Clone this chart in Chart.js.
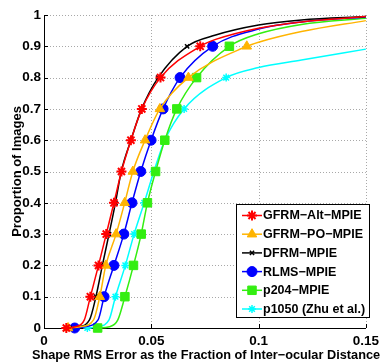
<!DOCTYPE html>
<html><head><meta charset="utf-8">
<script src="https://cdn.jsdelivr.net/npm/chart.js@4/dist/chart.umd.min.js"></script>
<style>html,body{margin:0;padding:0;background:#fff;}</style>
</head><body><canvas id="c" width="384" height="362"></canvas>
<script>
// ---- data ----
const seriesNames = ["GFRM−Alt−MPIE", "GFRM−PO−MPIE", "DFRM−MPIE", "RLMS−MPIE", "p204−MPIE", "p1050 (Zhu et al.)"];
const xTitle = "Shape RMS Error as the Fraction of Inter−ocular Distance";
const yTitle = "Proportion of Images";
// proportion levels at which markers sit
const markerLevels = [0, 0.1, 0.2, 0.3, 0.4, 0.5, 0.6, 0.7, 0.8, 0.9];
// error value (x) where each curve reaches each marker level
const gfrmAltX = [0.0104, 0.0216, 0.0254, 0.0290, 0.0326, 0.0361, 0.0405, 0.0456, 0.0543, 0.0728];
const gfrmPoX  = [0.0112, 0.0260, 0.0288, 0.0336, 0.0376, 0.0414, 0.0471, 0.0540, 0.0673, 0.0945];
const dfrmX    = [0.0119, 0.0242, 0.0272, 0.0303, 0.0333, 0.0360, 0.0405, 0.0455, 0.0532, 0.0667];
const rlmsX    = [0.0143, 0.0280, 0.0326, 0.0372, 0.0410, 0.0451, 0.0499, 0.0555, 0.0634, 0.0786];
const p204X    = [0.0250, 0.0377, 0.0417, 0.0453, 0.0482, 0.0520, 0.0563, 0.0619, 0.0711, 0.0864];
const p1050X   = [0.0202, 0.0333, 0.0379, 0.0420, 0.0467, 0.0512, 0.0563, 0.0653, 0.0849];
// extra curve samples without markers (foot and tail)
const gfrmAltExtraX = [0.0145, 0.0188, 0.080, 0.100, 0.120, 0.150];
const gfrmAltExtraY = [0.004, 0.026, 0.922, 0.958, 0.978, 0.995];
const gfrmPoExtraX  = [0.0170, 0.0231, 0.100, 0.120, 0.150];
const gfrmPoExtraY  = [0.004, 0.026, 0.913, 0.947, 0.982];
const dfrmExtraX    = [0.0160, 0.0212, 0.080, 0.100, 0.120, 0.150];
const dfrmExtraY    = [0.004, 0.026, 0.936, 0.968, 0.984, 0.995];
const rlmsExtraX    = [0.0190, 0.0252, 0.100, 0.120, 0.150];
const rlmsExtraY    = [0.004, 0.026, 0.955, 0.978, 0.994];
const p204ExtraX    = [0.0305, 0.0344, 0.100, 0.120, 0.150];
const p204ExtraY    = [0.004, 0.026, 0.940, 0.970, 0.990];
const p1050ExtraX   = [0.0250, 0.0303, 0.100, 0.120, 0.150];
const p1050ExtraY   = [0.004, 0.026, 0.832, 0.856, 0.891];

const xTickValues = [0, 0.05, 0.1, 0.15];
const xTickLabels = ["0", "0.05", "0.1", "0.15"];
const yTickValues = [0, 0.1, 0.2, 0.3, 0.4, 0.5, 0.6, 0.7, 0.8, 0.9, 1];
const yTickLabels = ["0", "0.1", "0.2", "0.3", "0.4", "0.5", "0.6", "0.7", "0.8", "0.9", "1"];

function buildPoints(mx, ex, ey) {
  const pts = mx.map((x, i) => ({x: x, y: markerLevels[i], m: true}));
  ex.forEach((x, i) => pts.push({x: x, y: ey[i], m: false}));
  pts.sort((a, b) => a.x - b.x);
  return pts;
}

const styles = [
  {color: '#ff0000', style: 'star', r: 5, bw: 2, fill: '#ff0000'},
  {color: '#ffb400', style: 'triangle', r: 5.5, bw: 1, fill: '#ffb400'},
  {color: '#000000', style: 'crossRot', r: 3, bw: 1.5, fill: '#000000'},
  {color: '#0000ff', style: 'circle', r: 5, bw: 1, fill: '#0000ff'},
  {color: '#33ee11', style: 'rect', r: 6, bw: 1, fill: '#33ee11'},
  {color: '#00ffff', style: 'star', r: 4, bw: 1.5, fill: '#00ffff'}
];
const pointSets = [
  buildPoints(gfrmAltX, gfrmAltExtraX, gfrmAltExtraY),
  buildPoints(gfrmPoX, gfrmPoExtraX, gfrmPoExtraY),
  buildPoints(dfrmX, dfrmExtraX, dfrmExtraY),
  buildPoints(rlmsX, rlmsExtraX, rlmsExtraY),
  buildPoints(p204X, p204ExtraX, p204ExtraY),
  buildPoints(p1050X, p1050ExtraX, p1050ExtraY)
];

const datasets = pointSets.map((pts, i) => {
  const s = styles[i];
  return {
    label: seriesNames[i],
    data: pts,
    showLine: true,
    borderColor: s.color,
    borderWidth: 1.5,
    backgroundColor: s.fill,
    pointBackgroundColor: s.fill,
    pointBorderColor: s.color,
    pointBorderWidth: s.bw,
    pointStyle: s.style,
    pointRadius: ctx => (ctx.raw && ctx.raw.m) ? s.r : 0,
    legendRadius: s.r,
    cubicInterpolationMode: 'monotone',
    clip: false
  };
});
datasets.forEach((d, i) => d.order = i);

const FONT = '"Liberation Sans", Arial, Helvetica, sans-serif';

// dotted grid + inward tick marks
const gridAndTicks = {
  id: 'gridAndTicks',
  beforeDatasetsDraw(chart) {
    const {ctx, chartArea: a, scales: {x, y}} = chart;
    ctx.save();
    ctx.strokeStyle = '#a8a8a8'; ctx.lineWidth = 1;
    ctx.setLineDash([1, 2]);
    xTickValues.forEach((v, i) => {
      if (i === 0) return;
      const px = Math.round(x.getPixelForValue(v)) + 0.5;
      ctx.beginPath(); ctx.moveTo(px, a.top); ctx.lineTo(px, a.bottom); ctx.stroke();
    });
    yTickValues.forEach((v, i) => {
      if (i === 0) return;
      const py = Math.round(y.getPixelForValue(v)) + 0.5;
      ctx.beginPath(); ctx.moveTo(a.left, py); ctx.lineTo(a.right, py); ctx.stroke();
    });
    ctx.setLineDash([]);
    ctx.strokeStyle = '#000';
    xTickValues.forEach(v => {
      const px = Math.round(x.getPixelForValue(v)) + 0.5;
      ctx.beginPath(); ctx.moveTo(px, a.bottom); ctx.lineTo(px, a.bottom - 4); ctx.stroke();
    });
    yTickValues.forEach(v => {
      const py = Math.round(y.getPixelForValue(v)) + 0.5;
      ctx.beginPath(); ctx.moveTo(a.left, py); ctx.lineTo(a.left + 4, py); ctx.stroke();
    });
    ctx.restore();
  }
};

const titles = {
  id: 'titles',
  afterDraw(chart) {
    const {ctx, chartArea: a} = chart;
    ctx.save();
    ctx.fillStyle = '#000';
    ctx.font = 'bold 12.75px ' + FONT;
    ctx.textAlign = 'center'; ctx.textBaseline = 'middle';
    ctx.fillText(xTitle, 206, 355);
    ctx.translate(17, (a.top + a.bottom) / 2);
    ctx.rotate(-Math.PI / 2);
    ctx.font = 'bold 13px ' + FONT;
    ctx.fillText(yTitle, 0, 0);
    ctx.restore();
  }
};

const boxLegend = {
  id: 'boxLegend',
  afterDraw(chart) {
    const ctx = chart.ctx;
    const x0 = 236, y0 = 204, w = 133, h = 113;
    ctx.save();
    ctx.fillStyle = '#fff'; ctx.fillRect(x0, y0, w, h);
    ctx.strokeStyle = '#000'; ctx.lineWidth = 1;
    ctx.strokeRect(x0 + 0.5, y0 + 0.5, w, h);
    chart.data.datasets.forEach((ds, i) => {
      const y = y0 + 11.5 + i * 18.7;
      ctx.strokeStyle = ds.borderColor; ctx.lineWidth = ds.borderWidth;
      ctx.beginPath(); ctx.moveTo(x0 + 6, y); ctx.lineTo(x0 + 26, y); ctx.stroke();
      ctx.fillStyle = ds.pointBackgroundColor; ctx.strokeStyle = ds.pointBorderColor;
      ctx.lineWidth = ds.pointBorderWidth;
      Chart.helpers.drawPoint(ctx, {pointStyle: ds.pointStyle, radius: ds.legendRadius, borderWidth: ds.pointBorderWidth, rotation: 0}, x0 + 16, y);
      ctx.fillStyle = '#000';
      ctx.font = 'bold 12.5px ' + FONT;
      ctx.textBaseline = 'middle'; ctx.textAlign = 'left';
      ctx.fillText(ds.label, x0 + 27, y + 0.5);
    });
    ctx.restore();
  }
};

new Chart(document.getElementById('c'), {
  type: 'scatter',
  data: {datasets: datasets},
  options: {
    responsive: false,
    animation: false,
    events: [],
    layout: {padding: {left: 0, right: 13, top: 15, bottom: 0}},
    plugins: {legend: {display: false}, tooltip: {enabled: false}},
    scales: {
      x: {
        type: 'linear', min: 0, max: 0.15,
        afterBuildTicks: s => { s.ticks = xTickValues.map(v => ({value: v})); },
        afterFit: s => { s.height = 34; },
        ticks: {
          callback: (v, i) => xTickLabels[i],
          font: {family: FONT, size: 13.5, weight: 'bold'}, color: '#000', padding: 5, maxRotation: 0
        },
        grid: {display: false, drawTicks: false},
        border: {display: true, color: '#000', width: 1}
      },
      y: {
        type: 'linear', min: 0, max: 1,
        afterBuildTicks: s => { s.ticks = yTickValues.map(v => ({value: v})); },
        afterFit: s => { s.width = 44; },
        ticks: {
          callback: (v, i) => yTickLabels[i],
          font: {family: FONT, size: 13.5, weight: 'bold'}, color: '#000', padding: 3
        },
        grid: {display: false, drawTicks: false},
        border: {display: true, color: '#000', width: 1}
      }
    }
  },
  plugins: [gridAndTicks, titles, boxLegend]
});
</script></body></html>
